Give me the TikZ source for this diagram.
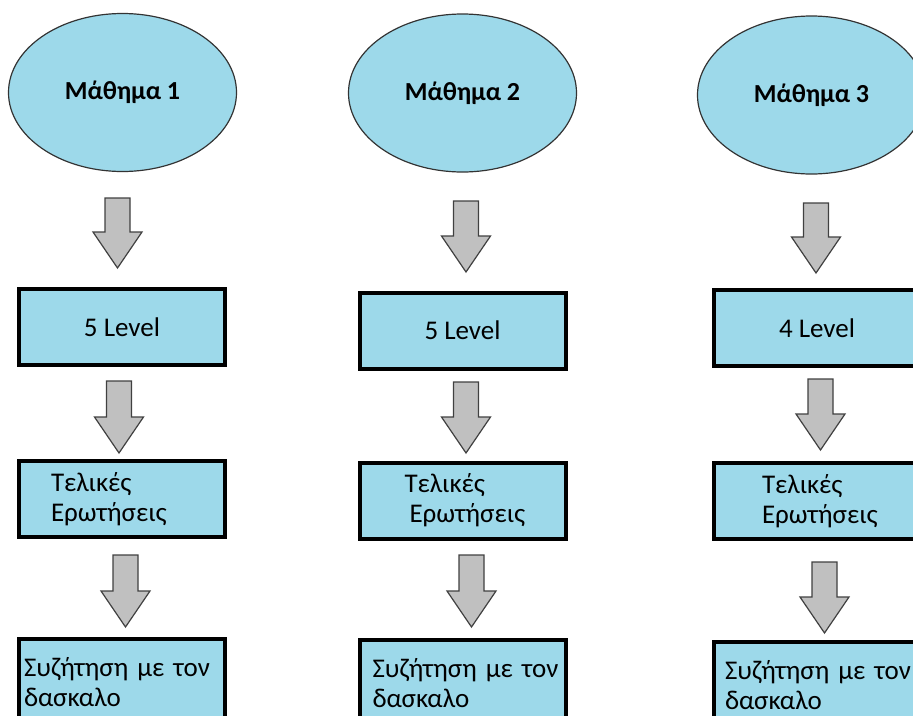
\documentclass[tikz,border=0pt]{standalone}
\usepackage{fontspec}
\setmainfont{Carlito}
\usepackage{tikz}
\usetikzlibrary{shapes.geometric, positioning}
\definecolor{boxblue}{HTML}{9DD9EA}
\definecolor{arrowgray}{HTML}{C0C0C0}
% block arrow pointing down: centre x, top y, tip y
\newcommand{\blockarrow}[3]{%
  \draw[arrowshape] ({#1-12.5},#2) -- ({#1+12.5},#2) -- ({#1+12.5},{#3-36})
    -- ({#1+24.5},{#3-36}) -- (#1,#3) -- ({#1-24.5},{#3-36})
    -- ({#1-12.5},{#3-36}) -- cycle;}

\begin{document}
\begin{tikzpicture}[x=1pt, y=-1pt,
  every node/.style={font=\fontsize{27}{30}\selectfont},
  lesson/.style={ellipse, draw=black!80, line width=1.2pt, fill=boxblue,
    minimum width=228pt, minimum height=158pt, inner sep=0pt,
    font=\fontsize{26}{28}\selectfont\bfseries},
  levelbox/.style={rectangle, draw=black, line width=4pt, fill=boxblue,
    minimum width=206pt, minimum height=76pt},
  textbox/.style={levelbox, text width=210pt, inner xsep=-2pt, align=left},
  talkbox/.style={textbox, minimum height=86pt},
  arrowshape/.style={draw=black!75, line width=1.2pt, fill=arrowgray}]
  \useasboundingbox (0,0) rectangle (913,715);
  \clip (0,0) rectangle (913,715);
  % --- lessons -----------------------------------------------------
  \node[lesson] (les1) at (122.5,92.5) {Μάθημα 1};
  \node[lesson] (les2) at (462.5,93) {Μάθημα 2};
  \node[lesson] (les3) at (811.5,95) {Μάθημα 3};
  % --- levels ------------------------------------------------------
  \node[levelbox] (lev1) at (122,327) {5 Level};
  \node[levelbox] (lev2) at (462.5,330.5) {5 Level};
  \node[levelbox] (lev3) at (817,328) {4 Level};
  % --- final questions ---------------------------------------------
  \node[textbox] (fin1) at (122,499)
    {\hspace*{34pt}Τελικές\\\hspace*{34pt}Ερωτήσεις};
  \node[textbox] (fin2) at (462.5,500.5)
    {\hspace*{47pt}Τελικές\\\hspace*{52pt}Ερωτήσεις};
  \node[textbox] (fin3) at (817,501)
    {\hspace*{50pt}Τελικές\\\hspace*{50pt}Ερωτήσεις};
  % --- discussion --------------------------------------------------
  \node[talkbox] (talk1) at (122,682)
    {\hspace*{7pt}Συζήτηση με τον\\\hspace*{7pt}δασκαλο};
  \node[talkbox] (talk2) at (462.5,683)
    {\hspace*{15pt}Συζήτηση με τον\\\hspace*{15pt}δασκαλο};
  \node[talkbox] (talk3) at (817,685)
    {\hspace*{13pt}Συζήτηση με τον\\\hspace*{13pt}δασκαλο};
  % --- block arrows ------------------------------------------------
  \blockarrow{117.5}{198}{268}
  \blockarrow{119}{381}{453}
  \blockarrow{125.5}{555}{627}
  \blockarrow{466}{201}{272}
  \blockarrow{466}{382}{453}
  \blockarrow{471.5}{555}{627}
  \blockarrow{816}{203}{273}
  \blockarrow{820.5}{379}{450}
  \blockarrow{824.5}{562}{633}
\end{tikzpicture}
\end{document}
